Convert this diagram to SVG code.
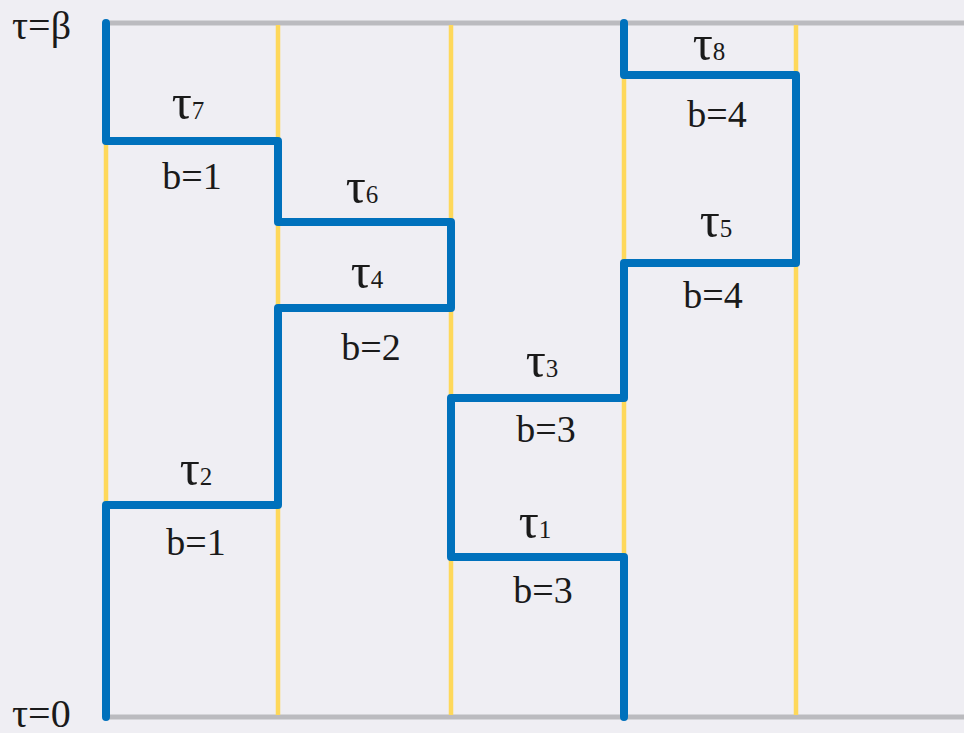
<svg xmlns="http://www.w3.org/2000/svg" width="964" height="733" viewBox="0 0 964 733">
<style>
.gray{stroke:#bbbbbf;stroke-width:5;fill:none}
.yel{stroke:#fed85a;stroke-width:4.5;fill:none}
.wl{stroke:#0071bc;stroke-width:8;fill:none;stroke-linejoin:round;stroke-linecap:round}
text{font-family:"Liberation Serif","Times New Roman",serif;fill:#1a1a1a}
.b{font-size:38px;text-anchor:middle}
.t{font-size:50px;text-anchor:middle}
.s{font-size:25px}
.ax{font-size:40px}
</style>
<rect x="0" y="0" width="964" height="733" fill="#efeef3"/>
<g id="axes">
<line class="gray" x1="106" y1="23" x2="964" y2="23"/>
<line class="gray" x1="106" y1="717" x2="964" y2="717"/>
<text class="ax" x="12" y="39">τ=β</text>
<text class="ax" x="12" y="727">τ=0</text>
</g>
<g id="sites">
<line class="yel" x1="106" y1="25" x2="106" y2="715"/>
<line class="yel" x1="278" y1="25" x2="278" y2="715"/>
<line class="yel" x1="451" y1="25" x2="451" y2="715"/>
<line class="yel" x1="624" y1="25" x2="624" y2="715"/>
<line class="yel" x1="796" y1="25" x2="796" y2="715"/>
</g>
<g id="connectors">
<path class="wl" d="M106,23 V141 H278 V222 H451 V308 H278 V505 H106 V717"/>
<path class="wl" d="M624,717 V557 H451 V398 H624 V263 H796 V75 H624 V23"/>
</g>
<g id="labels">
<text class="t" x="188" y="119">τ<tspan class="s">7</tspan></text>
<text class="b" x="192" y="189">b=1</text>
<text class="t" x="362" y="203">τ<tspan class="s">6</tspan></text>
<text class="t" x="367" y="288">τ<tspan class="s">4</tspan></text>
<text class="b" x="371" y="360">b=2</text>
<text class="t" x="196" y="485">τ<tspan class="s">2</tspan></text>
<text class="b" x="196" y="555">b=1</text>
<text class="t" x="542" y="377">τ<tspan class="s">3</tspan></text>
<text class="b" x="546" y="442">b=3</text>
<text class="t" x="535" y="538">τ<tspan class="s">1</tspan></text>
<text class="b" x="543" y="603">b=3</text>
<text class="t" x="709" y="60">τ<tspan class="s">8</tspan></text>
<text class="b" x="717" y="127">b=4</text>
<text class="t" x="716" y="237">τ<tspan class="s">5</tspan></text>
<text class="b" x="713" y="308">b=4</text>
</g>
</svg>
